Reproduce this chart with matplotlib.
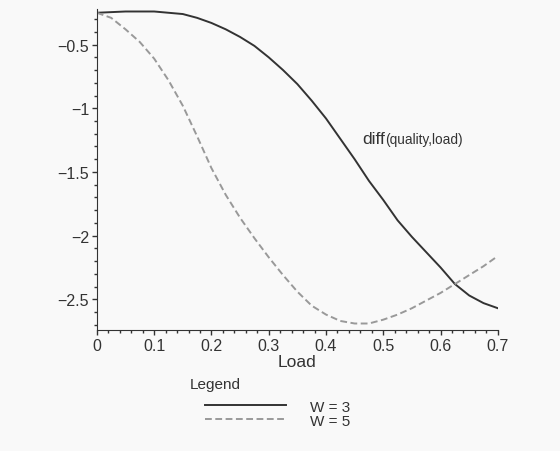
import numpy as np
import matplotlib
matplotlib.use('Agg')
import matplotlib.pyplot as plt
from matplotlib.ticker import MultipleLocator

load = [0, 0.025, 0.05, 0.075, 0.1, 0.125, 0.15, 0.175, 0.2, 0.225, 0.25, 0.275, 0.3,
        0.325, 0.35, 0.375, 0.4, 0.425, 0.45, 0.475, 0.5, 0.525, 0.55, 0.575, 0.6,
        0.625, 0.65, 0.675, 0.7]
w3 = [-0.25, -0.245, -0.24, -0.24, -0.24, -0.25, -0.26, -0.29, -0.33, -0.38, -0.44,
      -0.51, -0.60, -0.70, -0.81, -0.94, -1.08, -1.24, -1.40, -1.57, -1.72, -1.88,
      -2.01, -2.13, -2.25, -2.38, -2.47, -2.53, -2.57]
w5 = [-0.25, -0.29, -0.38, -0.48, -0.61, -0.78, -0.98, -1.22, -1.47, -1.68, -1.86,
      -2.02, -2.17, -2.31, -2.44, -2.55, -2.62, -2.67, -2.69, -2.69, -2.66, -2.62,
      -2.57, -2.51, -2.45, -2.38, -2.31, -2.24, -2.16]
labels = ['W = 3', 'W = 5']

plt.rcParams['font.family'] = ['Liberation Sans', 'DejaVu Sans']

bg = '#f9f9f9'
fig = plt.figure(figsize=(5.6, 4.52), dpi=100, facecolor=bg)
ax = fig.add_axes([0.173, 0.268, 0.716, 0.71], facecolor=bg)

l3, = ax.plot(load, w3, color='#333333', lw=1.4, label=labels[0])
l5, = ax.plot(load, w5, color='#999999', lw=1.4, ls=(0, (3.5, 1.8)), label=labels[1])

ax.set_xlim(0, 0.7)
ax.set_ylim(-2.74, -0.22)
ax.spines['top'].set_visible(False)
ax.spines['right'].set_visible(False)
ax.spines['left'].set_color('#333333')
ax.spines['bottom'].set_color('#333333')

ax.xaxis.set_minor_locator(MultipleLocator(0.02))
ax.yaxis.set_minor_locator(MultipleLocator(0.1))
ax.set_xticks(np.arange(0, 0.71, 0.1))
ax.set_xticklabels(['0', '0.1', '0.2', '0.3', '0.4', '0.5', '0.6', '0.7'])
ax.set_yticks([-0.5, -1, -1.5, -2, -2.5])
ax.set_yticklabels(['\u22120.5', '\u22121', '\u22121.5', '\u22122', '\u22122.5'])
ax.tick_params(which='major', length=3.5, width=1, color='#333333', labelsize=11.5,
               labelcolor='#333333', pad=2)
ax.tick_params(which='minor', length=2, width=1, color='#333333')

ax.set_xlabel('Load', fontsize=12.5, color='#333333', labelpad=1)

t1 = ax.text(0.464, -1.24, 'diff', fontsize=12.5, color='#333333', va='center')
ax.annotate('(quality,load)', xy=(1, 0), xycoords=t1, fontsize=9.8,
            color='#333333', va='bottom', ha='left')

fig.text(190 / 560, 1 - 385 / 452, 'Legend', fontsize=11, color='#333333', va='center')
fig.legend(handles=[l3, l5], loc='upper left', bbox_to_anchor=(197 / 560, 1 - 393 / 452),
           frameon=False, fontsize=11, handlelength=5.3, handletextpad=1.6,
           labelspacing=0.0, borderpad=0, labelcolor='#333333')

fig.savefig('out.png', dpi=100, facecolor=bg)
